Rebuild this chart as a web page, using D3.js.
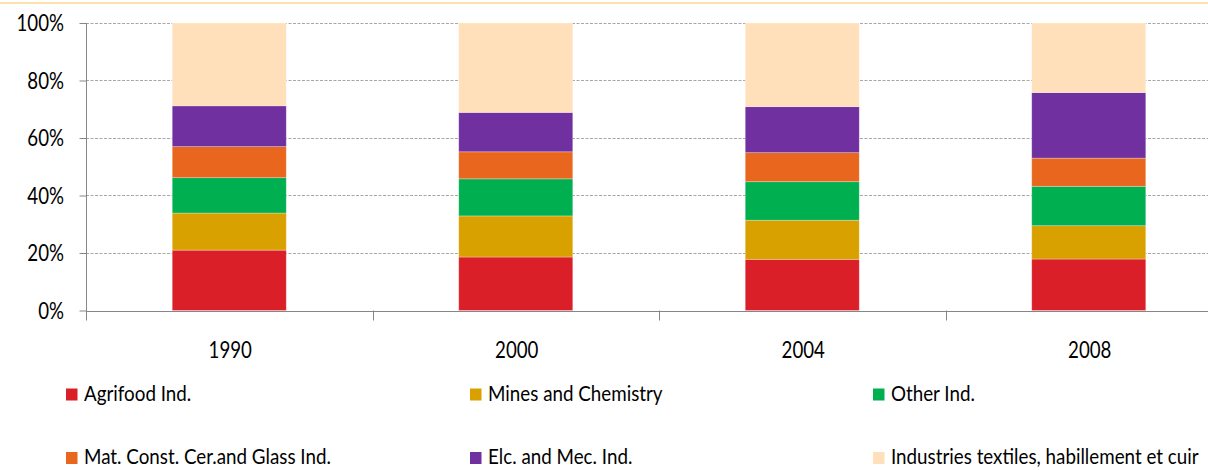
<!DOCTYPE html>
<html>
<head>
<meta charset="utf-8">
<script src="https://cdn.jsdelivr.net/npm/d3@7"></script>
<style>
  html, body { margin: 0; padding: 0; background: #fff; }
  svg { display: block; }
  text { font-family: Lato, "Open Sans", sans-serif; fill: #000; }
</style>
</head>
<body>
<svg id="chart" width="1208" height="470"></svg>
<script>
// Share of each industry branch, percent of total, by year
const categories = ["1990", "2000", "2004", "2008"];
const agrifood   = [21.0, 18.6, 17.8, 17.9];
const mines      = [12.9, 14.3, 13.6, 11.6];
const otherInd   = [12.3, 12.9, 13.4, 13.7];
const matConst   = [10.8,  9.4, 10.1,  9.8];
const elcMec     = [14.2, 13.7, 16.0, 22.8];
const textiles   = [28.8, 31.1, 29.1, 24.2];
const seriesNames = [
  "Agrifood Ind.", "Mines and Chemistry", "Other Ind.",
  "Mat. Const. Cer.and Glass Ind.", "Elc. and Mec. Ind.",
  "Industries textiles, habillement et cuir"
];
const yTicks = [0, 20, 40, 60, 80, 100];

const colors = ["#DA1F28", "#D9A100", "#00AF50", "#E8661D", "#7030A0", "#FFE0BA"];
const seriesValues = [agrifood, mines, otherInd, matConst, elcMec, textiles];

const table = categories.map((c, i) => {
  const row = { year: c };
  seriesNames.forEach((s, j) => { row[s] = seriesValues[j][i]; });
  return row;
});
const stacked = d3.stack().keys(seriesNames)(table);

const svg = d3.select("#chart");

// thin frame line along the top
svg.append("line")
  .attr("x1", 0).attr("x2", 1208).attr("y1", 3).attr("y2", 3)
  .attr("stroke", "#FBD88E").attr("stroke-width", 1.5);

const plotLeft = 86, plotRight = 1232, plotTop = 23, plotBottom = 310.5;

const x = d3.scaleBand().domain(categories)
  .range([plotLeft, plotRight])
  .paddingInner(0.602).paddingOuter(0.301);
const y = d3.scaleLinear().domain([0, 100]).range([plotBottom, plotTop]);

// horizontal gridlines
svg.append("g").selectAll("line")
  .data(yTicks.filter(d => d > 0))
  .join("line")
  .attr("x1", plotLeft).attr("x2", plotRight)
  .attr("y1", d => Math.round(y(d)) + 0.5).attr("y2", d => Math.round(y(d)) + 0.5)
  .attr("stroke", "#A8A8A8").attr("stroke-width", 1)
  .attr("stroke-dasharray", "3,1.5");

// stacked bars
svg.append("g").selectAll("g")
  .data(stacked)
  .join("g")
  .attr("fill", (d, i) => colors[i])
  .selectAll("rect")
  .data(d => d)
  .join("rect")
  .attr("x", d => x(d.data.year))
  .attr("width", x.bandwidth())
  .attr("y", d => y(d[1]))
  .attr("height", d => y(d[0]) - y(d[1]))
  .attr("stroke", "rgba(255,255,255,0.35)")
  .attr("stroke-width", 0.8);

// y axis (ticks and domain line)
const yAxis = svg.append("g")
  .attr("transform", `translate(${plotLeft + 0.5},0)`)
  .call(d3.axisLeft(y).tickValues(yTicks).tickSize(7).tickSizeOuter(0).tickFormat(""));
yAxis.select(".domain").remove();
yAxis.selectAll(".tick line").attr("stroke", "#868686");
yAxis.append("line")
  .attr("x1", 0).attr("x2", 0)
  .attr("y1", plotTop).attr("y2", plotBottom + 10)
  .attr("stroke", "#868686");

yAxis.selectAll(".tick text").remove();
svg.append("g").selectAll("text")
  .data(yTicks)
  .join("text")
  .attr("transform", d => `translate(64,${y(d) + 8.2}) scale(1,1.22)`)
  .attr("text-anchor", "end")
  .attr("font-size", 18.7)
  .text(d => d + "%");

// x axis line with ticks at category boundaries
const xAxisG = svg.append("g");
xAxisG.append("line")
  .attr("x1", plotLeft).attr("x2", plotRight)
  .attr("y1", Math.round(plotBottom) + 0.5).attr("y2", Math.round(plotBottom) + 0.5)
  .attr("stroke", "#868686");
const gap = (x.step() - x.bandwidth()) / 2;
xAxisG.selectAll("line.tick")
  .data(categories.slice(1))
  .join("line")
  .attr("class", "tick")
  .attr("x1", d => Math.round(x(d) - gap) + 0.5)
  .attr("x2", d => Math.round(x(d) - gap) + 0.5)
  .attr("y1", plotBottom).attr("y2", plotBottom + 10)
  .attr("stroke", "#868686");

svg.append("g").selectAll("text")
  .data(categories)
  .join("text")
  .attr("transform", d => `translate(${x(d) + x.bandwidth() / 2 + 1},358) scale(1,1.22)`)
  .attr("text-anchor", "middle")
  .attr("font-size", 18.7)
  .text(d => d);

// legend, three columns by two rows
const legendX = [66, 470, 873];
const legendY = [400.5, 464];
const legend = svg.append("g").selectAll("g")
  .data(seriesNames)
  .join("g")
  .attr("transform", (d, i) => `translate(${legendX[i % 3]},${legendY[Math.floor(i / 3)]})`);
legend.append("rect")
  .attr("x", 0).attr("y", -12)
  .attr("width", 11.5).attr("height", 12)
  .attr("fill", (d, i) => colors[i]);
legend.append("text")
  .attr("x", 18).attr("y", 0)
  .attr("font-size", 18.8)
  .attr("transform", "scale(1,1.12)")
  .text(d => d);
</script>
</body>
</html>
